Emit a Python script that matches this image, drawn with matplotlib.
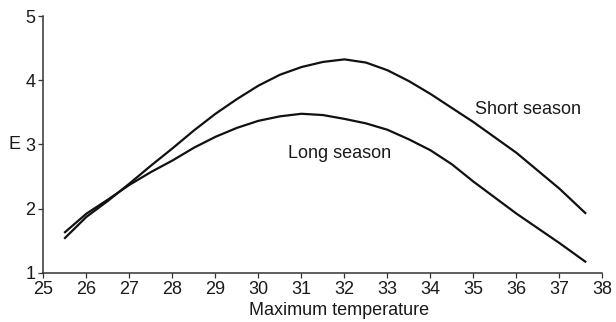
"""
E vs maximum temperature, short and long season curves
"""
import matplotlib
matplotlib.use('Agg')
import matplotlib.pyplot as plt

plt.rcParams['font.family'] = ['Liberation Sans', 'DejaVu Sans']

# values
temp = [25.5, 26, 26.5, 27, 27.5, 28, 28.5, 29, 29.5, 30, 30.5, 31, 31.5,
        32, 32.5, 33, 33.5, 34, 34.5, 35, 35.5, 36, 36.5, 37, 37.6]
short_season = [1.54, 1.87, 2.12, 2.39, 2.67, 2.94, 3.22, 3.48, 3.71, 3.92,
                4.09, 4.21, 4.29, 4.33, 4.28, 4.16, 3.99, 3.79, 3.57, 3.35,
                3.11, 2.87, 2.59, 2.31, 1.93]
long_season = [1.63, 1.92, 2.14, 2.37, 2.57, 2.75, 2.95, 3.12, 3.26, 3.37,
               3.44, 3.48, 3.46, 3.40, 3.33, 3.23, 3.08, 2.91, 2.69, 2.42,
               2.17, 1.92, 1.69, 1.46, 1.17]

xticks = list(range(25, 39))
yticks = [1, 2, 3, 4, 5]

fig = plt.figure(figsize=(6.16, 3.22), dpi=100)
ax = fig.add_axes([0.0706, 0.1537, 0.9074, 0.7951])

ax.plot(temp, short_season, color='#111111', lw=1.6, solid_joinstyle='round')
ax.plot(temp, long_season, color='#111111', lw=1.6, solid_joinstyle='round')

ax.set_xlim(25, 38)
ax.set_ylim(1, 5)
ax.set_xticks(xticks)
ax.set_yticks(yticks)

for side in ['top', 'right']:
    ax.spines[side].set_visible(False)
for side in ['left', 'bottom']:
    ax.spines[side].set_linewidth(1.1)
    ax.spines[side].set_color('#333333')

ax.tick_params(axis='both', direction='out', length=3.5, width=0.9,
               color='#333333', labelsize=13, labelcolor='#1a1a1a', pad=2.5)

ax.set_xlabel('Maximum temperature', fontsize=13, color='#1a1a1a')
ax.xaxis.set_label_coords(0.529, -0.115)
ax.set_ylabel('E', fontsize=13, color='#1a1a1a', rotation=0, va='center', ha='center')
ax.yaxis.set_label_coords(-0.052, 0.5)

# curve labels
ax.text(35.03, 3.55, 'Short season', fontsize=13, color='#1a1a1a', ha='left', va='center')
ax.text(30.68, 2.86, 'Long season', fontsize=13, color='#1a1a1a', ha='left', va='center')

fig.savefig('out.png', dpi=100)
plt.close(fig)
